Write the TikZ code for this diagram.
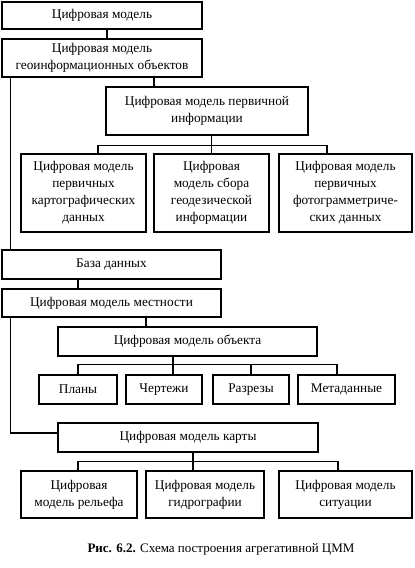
\documentclass[tikz,border=0pt]{standalone}
\usepackage{fontspec}
\setmainfont{Liberation Serif}
\begin{document}
\begin{tikzpicture}[x=1pt,y=-1pt,
  box/.style={draw, line width=1.1pt, inner sep=0pt, align=center,
    font=\fontsize{13.3}{17}\selectfont},
  conn/.style={line width=1.1pt},
  captext/.style={font=\fontsize{13}{15}\selectfont}]
\useasboundingbox (0,0) rectangle (415,568);
% top part
\node[box, minimum width=200pt, minimum height=27pt] (b1) at (102,15.5) {Цифровая модель};
\node[box, minimum width=200pt, minimum height=38pt] (b2) at (102,58) {Цифровая модель\\геоинформационных объектов};
\node[box, minimum width=202pt, minimum height=48pt] (b3) at (207,111) {Цифровая модель первичной\\информации};
\node[box, minimum width=125pt, minimum height=78pt] (p1) at (83.5,193) {Цифровая модель\\первичных\\картографических\\данных};
\node[box, minimum width=115pt, minimum height=78pt] (p2) at (211.5,193) {Цифровая\\модель сбора\\геодезической\\информации};
\node[box, minimum width=133pt, minimum height=78pt] (p3) at (345.5,193) {Цифровая модель\\первичных\\фотограмметриче-\\ских данных};
% middle
\node[box, minimum width=219pt, minimum height=29pt] (db) at (111.5,264.5) {База данных};
\node[box, minimum width=219pt, minimum height=28pt] (cmm) at (111.5,303) {Цифровая модель местности};
\node[box, minimum width=259pt, minimum height=29pt] (obj) at (187.5,341.5) {Цифровая модель объекта};
\node[box, minimum width=78pt, minimum height=29pt] (pla) at (78,389.5) {Планы};
\node[box, minimum width=76pt, minimum height=29pt] (che) at (164,389.5) {Чертежи};
\node[box, minimum width=76pt, minimum height=29pt] (raz) at (251,389.5) {Разрезы};
\node[box, minimum width=97pt, minimum height=29pt] (met) at (346.5,389.5) {Метаданные};
% bottom
\node[box, minimum width=260pt, minimum height=29pt] (kar) at (188,437.5) {Цифровая модель карты};
\node[box, minimum width=116pt, minimum height=47pt] (k1) at (79,494.5) {Цифровая\\модель рельефа};
\node[box, minimum width=118pt, minimum height=47pt] (k2) at (205,494.5) {Цифровая модель\\гидрографии};
\node[box, minimum width=133pt, minimum height=47pt] (k3) at (345.5,494.5) {Цифровая модель\\ситуации};
\node[captext] (capt) at (221,549) {\textbf{Рис. 6.2.} Схема построения агрегативной ЦММ};
% connectors
\draw[conn] ([xshift=5pt]b1.south) -- ([xshift=5pt]b2.north);
\coordinate (t1) at ([xshift=52pt]b2.south);
\draw[conn] (t1) -- (t1 |- b3.north);
\coordinate (L1) at ([xshift=9pt]b2.south west);
\draw[conn] (L1) -- (L1 |- db.north);
\draw[conn] (b3.south -| p2.north) -- (p2.north);
\draw[conn] ([xshift=14.5pt]p1.north) -- ++(0,-8) -| ([xshift=-18.5pt]p3.north);
\draw[conn] ([xshift=-33.5pt]db.south) -- ([xshift=-33.5pt]cmm.north);
\coordinate (t2) at ([xshift=34.5pt]cmm.south);
\draw[conn] (t2) -- (t2 |- obj.north);
\coordinate (L2) at ([xshift=9pt]cmm.south west);
\draw[conn] (L2) |- ([yshift=4.5pt]kar.west);
\coordinate (o1) at ([xshift=-14.5pt]obj.south);
\draw[conn] (o1) -- (o1 |- che.north);
\draw[conn] (pla.north) -- ++(0,-10) -| ([xshift=-9.5pt]met.north);
\draw[conn] (raz.north) -- ++(0,-10);
\coordinate (o2) at ([xshift=5pt]kar.south);
\draw[conn] (o2) -- (o2 |- k2.north);
\draw[conn] ([xshift=-1pt]k1.north) -- ++(0,-9) -| ([xshift=-7.5pt]k3.north);
\end{tikzpicture}
\end{document}
